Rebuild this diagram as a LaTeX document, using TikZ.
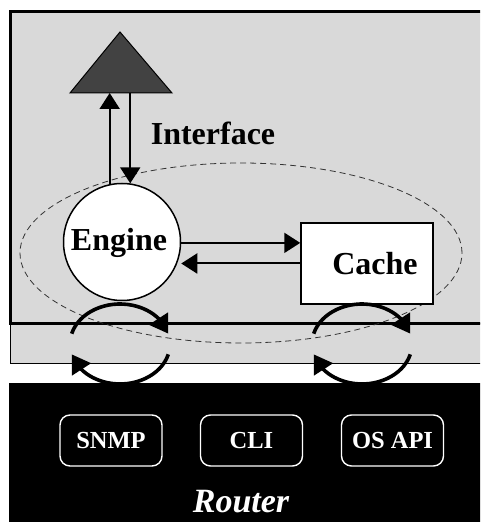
\documentclass[tikz,border=0pt]{standalone}
\usepackage{fontspec}
\setmainfont{Liberation Serif}
\usetikzlibrary{arrows.meta,calc,bending}
\definecolor{panel}{HTML}{D9D9D9}
\definecolor{ifacegray}{HTML}{424242}
\tikzset{
  big/.style={font=\fontsize{32}{32}\selectfont\bfseries},
  arr/.style={line width=2pt,-{Triangle[length=16pt,width=20pt]}},
  cyc/.style={line width=3.6pt,-{Triangle[length=18pt,width=22pt,flex]}},
  svc/.style={draw=white,line width=1.4pt,rounded corners=10pt,minimum width=102pt,
    minimum height=51pt,text=white,font=\fontsize{24.5}{24.5}\selectfont\bfseries}
}
\begin{document}
\begin{tikzpicture}[x=1pt,y=1pt]
\useasboundingbox (0,0) rectangle (480,522);
\clip (0,0) rectangle (480,522);
% management host panel and the strip beneath it
\draw[fill=panel,line width=1pt] (10,198) rectangle (495,158);
\draw[fill=panel,line width=3pt] (10,198) rectangle (495,510);
% interface triangle
\coordinate (iface) at (120,429);
\draw[fill=ifacegray,line width=1pt] (70,429) -- (120,490) -- (172,429) -- cycle;
\node[big] (ifacelabel) at (213,389) {Interface};
% scope of the management agent
\draw[dashed,dash pattern=on 6pt off 4pt,line width=0.8pt,black!80] (241,269) ellipse [x radius=221,y radius=90];
% engine and cache
\node[circle,draw,fill=white,line width=1.5pt,minimum size=117pt,inner sep=0pt,big] (engine) at (122,280) {};
\node[big] (enginelabel) at (119,279) {Engine};
\node[draw,fill=white,line width=1.5pt,minimum width=132pt,minimum height=81pt,inner sep=0pt] (cache) at (367,258.5) {};
\node[big] (cachelabel) at (375,258) {Cache};
\draw[arr] (engine.102) -- (engine.102 |- iface);
\draw[arr] (iface -| engine.82) -- (engine.82);
\coordinate (cin) at ($(cache.north west)!0.25!(cache.south west)$);
\draw[arr] (engine.east |- cin) -- (cin);
\draw[arr] (cache.west) -- (engine.east |- cache.west);
% polling cycles between agent and router
\foreach \cx/\nm in {120/ecyc,362/ccyc}{
  \coordinate (\nm) at (\cx,178);
  \draw[cyc] (\nm) ++(165:50 and 40) arc[start angle=165,end angle=15,x radius=50,y radius=40];
  \draw[cyc] (\nm) ++(-15:50 and 40) arc[start angle=-15,end angle=-165,x radius=50,y radius=40];
}
% router
\fill[black] (9,139) rectangle (495,-5);
\node[svc] (snmp) at (111,81.5) {SNMP};
\node[svc] (cli) at (251.5,81.5) {CLI};
\node[svc] (osapi) at (392.5,81.5) {OS API};
\node[text=white,font=\fontsize{34}{34}\selectfont\bfseries\itshape,inner sep=1pt] (router) at (241,20) {Router};
\end{tikzpicture}
\end{document}
